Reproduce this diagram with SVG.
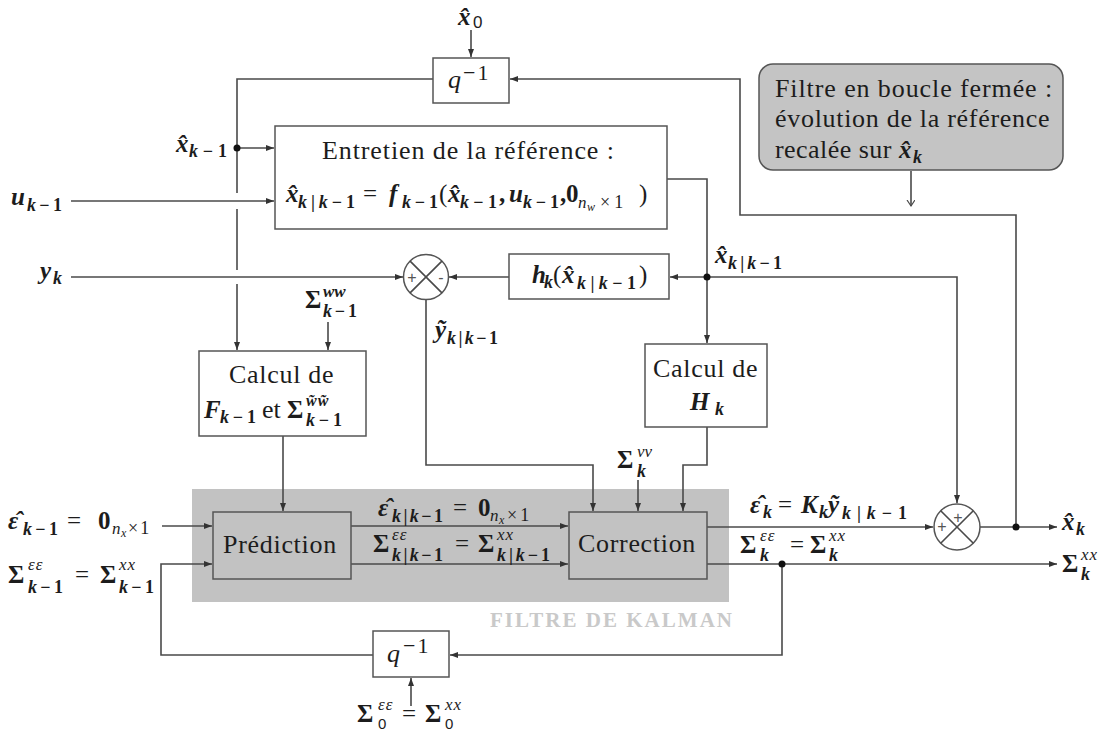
<svg xmlns="http://www.w3.org/2000/svg" width="1119" height="732" viewBox="0 0 1119 732">
<style>
text{font-family:"Liberation Serif","DejaVu Serif",serif;fill:#1c1c1c}
.f26{font-size:26px}.f25{font-size:25px}.f22{font-size:22px}.f21{font-size:21px}.f18{font-size:18px}.f17{font-size:17px}.f16{font-size:16px}.f15{font-size:15px}.f12{font-size:12px}
.bi{font-weight:bold;font-style:italic}.b{font-weight:bold}.it{font-style:italic}
.sans{font-family:"Liberation Sans","DejaVu Sans",sans-serif}
.box{fill:#fff;stroke:#555;stroke-width:1.5}
.gbox{fill:#c2c2c2;stroke:#555;stroke-width:1.5}
.ln{fill:none;stroke:#4a4a4a;stroke-width:1.6}
.pm{font-family:"Liberation Sans","DejaVu Sans",sans-serif;font-size:16px;fill:#555}
.lbl{font-weight:bold;fill:#c9c9c9;font-size:21px}
</style>
<defs>
<marker id="ah" markerUnits="userSpaceOnUse" markerWidth="9" markerHeight="7" refX="8" refY="3" orient="auto"><path d="M0,0 L8,3 L0,6 z" fill="#333"/></marker>
<marker id="oa" markerUnits="userSpaceOnUse" markerWidth="9" markerHeight="9" refX="6" refY="4" orient="auto"><path d="M0,0 L6,4 L0,8" fill="none" stroke="#4a4a4a" stroke-width="1.2"/></marker>
</defs>

<g id="kalman">
<rect x="192" y="489" width="537" height="113" fill="#c2c2c2"/>
<text class="lbl" x="490" y="627" textLength="242">FILTRE DE KALMAN</text>
</g>

<g id="connectors">
<path class="ln" d="M471,30 V57" marker-end="url(#ah)"/>
<path class="ln" d="M433,79 H237 V193"/>
<path class="ln" d="M237,209 V270"/>
<path class="ln" d="M237,284 V350" marker-end="url(#ah)"/>
<path class="ln" d="M237,148 H274" marker-end="url(#ah)"/>
<path class="ln" d="M71,201 H274" marker-end="url(#ah)"/>
<path class="ln" d="M667,179 H707 V277"/>
<path class="ln" d="M707,277 H670" marker-end="url(#ah)"/>
<path class="ln" d="M707,277 H957 V503" marker-end="url(#ah)"/>
<path class="ln" d="M509,277 H449" marker-end="url(#ah)"/>
<path class="ln" d="M71,277 H403" marker-end="url(#ah)"/>
<path class="ln" d="M426,300 V465 H593 V511" marker-end="url(#ah)"/>
<path class="ln" d="M707,277 V343" marker-end="url(#ah)"/>
<path class="ln" d="M707,427 V465 H683 V511" marker-end="url(#ah)"/>
<path class="ln" d="M638,480 V511" marker-end="url(#ah)"/>
<path class="ln" d="M328,322 V350" marker-end="url(#ah)"/>
<path class="ln" d="M283,436 V511" marker-end="url(#ah)"/>
<path class="ln" d="M162,526 H212" marker-end="url(#ah)"/>
<path class="ln" d="M351,526 H568" marker-end="url(#ah)"/>
<path class="ln" d="M351,564 H568" marker-end="url(#ah)"/>
<path class="ln" d="M707,527 H933" marker-end="url(#ah)"/>
<path class="ln" d="M980,527 H1057" marker-end="url(#ah)"/>
<path class="ln" d="M1016,527 V215 H740 V79 H510" marker-end="url(#ah)"/>
<path class="ln" d="M707,564 H1057" marker-end="url(#ah)"/>
<path class="ln" d="M782,564 V655 H450" marker-end="url(#ah)"/>
<path class="ln" d="M373,655 H161 V564 H212" marker-end="url(#ah)"/>
<path class="ln" d="M411,706 V678" marker-end="url(#ah)"/>
<path class="ln" d="M911,171 V206" marker-end="url(#oa)"/>
<circle cx="237" cy="148" r="3.5" fill="#111"/>
<circle cx="707" cy="277" r="3.5" fill="#111"/>
<circle cx="1016" cy="527" r="3.5" fill="#111"/>
<circle cx="782" cy="564" r="3.5" fill="#111"/>
</g>

<g id="q_top">
<rect class="box" x="433" y="58" width="76" height="45"/>
<text class="f26 it" x="448" y="88">q</text>
<text class="f22" x="463" y="80" letter-spacing="2">−1</text>
</g>

<g id="entretien">
<rect class="box" x="275" y="126" width="392" height="103"/>
<text class="f26" x="322" y="159" letter-spacing="0.9">Entretien de la référence :</text>
<text class="f25 bi" x="286" y="202">x&#770;</text>
<text class="f18 b" x="298" y="208" textLength="57"><tspan class="it">k</tspan>|<tspan class="it">k</tspan>−1</text>
<text class="f25" x="363" y="202">=</text>
<text class="f25 bi" x="389" y="202">f</text>
<text class="f18 b" x="402" y="208" textLength="36"><tspan class="it">k</tspan>−1</text>
<text class="f25" x="439" y="202">(</text>
<text class="f25 bi" x="448" y="202">x&#770;</text>
<text class="f18 b" x="460" y="208" textLength="37"><tspan class="it">k</tspan>−1</text>
<text class="f25 b" x="499" y="202">,</text>
<text class="f25 bi" x="509" y="202">u</text>
<text class="f18 b" x="523" y="208" textLength="36"><tspan class="it">k</tspan>−1</text>
<text class="f25 b" x="560" y="202">,</text>
<text class="f25 b" x="566" y="202">0</text>
<text class="f17 it" x="578" y="208">n</text>
<text class="f12 it" x="587" y="211">w</text>
<text class="f18" x="600" y="208" letter-spacing="4">×1</text>
<text class="f25" x="639" y="202">)</text>
</g>

<g id="hk">
<rect class="box" x="509" y="254" width="160" height="45"/>
<text class="f25 bi" x="532" y="283">h</text>
<text class="f18 bi" x="544" y="288">k</text>
<text class="f25" x="553" y="283">(</text>
<text class="f25 bi" x="562" y="283">x&#770;</text>
<text class="f18 b" x="577" y="289" textLength="59"><tspan class="it">k</tspan>|<tspan class="it">k</tspan>−1</text>
<text class="f25" x="639" y="283">)</text>
</g>

<g id="sum1">
<circle cx="426" cy="277" r="22.5" fill="#fff" stroke="#555" stroke-width="1.5"/>
<path class="ln" d="M410.1,261.1 L441.9,292.9 M441.9,261.1 L410.1,292.9" stroke-width="1.3"/>
<text class="pm" x="412" y="283" text-anchor="middle">+</text>
<text class="pm" x="441" y="283" text-anchor="middle">-</text>
</g>

<g id="calcF">
<rect class="box" x="199" y="351" width="167" height="85"/>
<text class="f26" x="229" y="383" letter-spacing="0.7">Calcul de</text>
<text class="f25 bi" x="204" y="418">F</text>
<text class="f18 b" x="220" y="423" textLength="36"><tspan class="it">k</tspan>−1</text>
<text class="f26" x="262" y="418">et</text>
<text class="f25 b" x="287" y="418">Σ</text>
<text class="f16 bi" x="306" y="406" letter-spacing="1">w&#771;w&#771;</text>
<text class="f18 b" x="306" y="426" textLength="36"><tspan class="it">k</tspan>−1</text>
</g>

<g id="calcH">
<rect class="box" x="645" y="344" width="122" height="83"/>
<text class="f26" x="653" y="377" letter-spacing="0.7">Calcul de</text>
<text class="f25 bi" x="690" y="410">H</text>
<text class="f18 bi" x="715" y="415">k</text>
</g>

<g id="filtre_note">
<rect x="759" y="64" width="304" height="106" rx="14" fill="#c4c4c4" stroke="#555" stroke-width="1.5"/>
<text class="f26" x="775" y="97" letter-spacing="0.9">Filtre en boucle fermée :</text>
<text class="f26" x="775" y="127" letter-spacing="0.7">évolution de la référence</text>
<text class="f26" x="775" y="158" letter-spacing="0.45">recalée sur</text>
<text class="f25 bi" x="899" y="158">x&#770;</text>
<text class="f18 bi" x="913" y="163">k</text>
</g>

<g id="prediction">
<rect class="gbox" x="213" y="512" width="138" height="67"/>
<text class="f26" x="223" y="553" letter-spacing="0.7">Prédiction</text>
</g>

<g id="correction">
<rect class="gbox" x="569" y="512" width="138" height="67"/>
<text class="f26" x="578" y="552" letter-spacing="0.68">Correction</text>
</g>

<g id="sum2">
<circle cx="957" cy="527" r="23" fill="#fff" stroke="#555" stroke-width="1.5"/>
<path class="ln" d="M940.7,510.7 L973.3,543.3 M973.3,510.7 L940.7,543.3" stroke-width="1.3"/>
<text class="pm" x="942" y="532" text-anchor="middle">+</text>
<text class="pm" x="958" y="523" text-anchor="middle">+</text>
</g>

<g id="q_bot">
<rect class="box" x="373" y="631" width="76" height="46"/>
<text class="f26 it" x="387" y="662">q</text>
<text class="f22" x="403" y="653" letter-spacing="2">−1</text>
</g>

<g id="labels">
<text class="f25 bi" x="458" y="25">x&#770;</text>
<text class="f17 sans" x="473" y="28">0</text>
<text class="f25 bi" x="176" y="152">x&#770;</text>
<text class="f18 b" x="189" y="157" textLength="38"><tspan class="it">k</tspan>−1</text>
<text class="f25 bi" x="11" y="205">u</text>
<text class="f18 b" x="27" y="211" textLength="35"><tspan class="it">k</tspan>−1</text>
<text class="f25 bi" x="40" y="279">y</text>
<text class="f18 bi" x="53" y="284">k</text>
<text class="f25 b" x="305" y="308">Σ</text>
<text class="f17 bi" x="323" y="297">ww</text>
<text class="f18 b" x="323" y="317" textLength="34"><tspan class="it">k</tspan>−1</text>
<text class="f25 bi" x="715" y="263">x&#770;</text>
<text class="f18 b" x="728" y="269" textLength="54"><tspan class="it">k</tspan>|<tspan class="it">k</tspan>−1</text>
<text class="f25 bi" x="435" y="338">y&#771;</text>
<text class="f18 b" x="447" y="344" textLength="51"><tspan class="it">k</tspan>|<tspan class="it">k</tspan>−1</text>
<text class="f25 b" x="617" y="468">Σ</text>
<text class="f17 it" x="637" y="457">vv</text>
<text class="f18 bi" x="637" y="477">k</text>
<text class="f25 bi" x="8" y="529">ε&#770;</text>
<text class="f18 b" x="23" y="535" textLength="35"><tspan class="it">k</tspan>−1</text>
<text class="f25" x="67" y="529">=</text>
<text class="f25 b" x="98" y="529">0</text>
<text class="f17 it" x="112" y="534">n</text>
<text class="f12 it" x="121" y="537">x</text>
<text class="f18" x="128" y="534" letter-spacing="2">×1</text>
<text class="f25 b" x="8" y="583">Σ</text>
<text class="f17 it" x="28" y="570" letter-spacing="1">εε</text>
<text class="f18 b" x="28" y="593" textLength="35"><tspan class="it">k</tspan>−1</text>
<text class="f25" x="75" y="583">=</text>
<text class="f25 b" x="100" y="583">Σ</text>
<text class="f17 it" x="119" y="570" letter-spacing="1">xx</text>
<text class="f18 b" x="119" y="593" textLength="35"><tspan class="it">k</tspan>−1</text>
<text class="f25 bi" x="378" y="516">ε&#770;</text>
<text class="f18 b" x="392" y="522" textLength="51"><tspan class="it">k</tspan>|<tspan class="it">k</tspan>−1</text>
<text class="f25" x="453" y="516">=</text>
<text class="f25 b" x="478" y="516">0</text>
<text class="f17 it" x="490" y="521">n</text>
<text class="f12 it" x="499" y="524">x</text>
<text class="f18" x="507" y="521" letter-spacing="3">×1</text>
<text class="f25 b" x="373" y="552">Σ</text>
<text class="f17 it" x="392" y="540" letter-spacing="1">εε</text>
<text class="f18 b" x="392" y="561" textLength="51"><tspan class="it">k</tspan>|<tspan class="it">k</tspan>−1</text>
<text class="f25" x="455" y="552">=</text>
<text class="f25 b" x="478" y="552">Σ</text>
<text class="f17 it" x="497" y="540" letter-spacing="1">xx</text>
<text class="f18 b" x="497" y="561" textLength="53"><tspan class="it">k</tspan>|<tspan class="it">k</tspan>−1</text>
<text class="f25 bi" x="750" y="513">ε&#770;</text>
<text class="f18 bi" x="763" y="518">k</text>
<text class="f25" x="778" y="513">=</text>
<text class="f25 bi" x="801" y="513">K</text>
<text class="f18 bi" x="819" y="518">k</text>
<text class="f25 bi" x="828" y="513">y&#771;</text>
<text class="f18 b" x="842" y="519" textLength="65"><tspan class="it">k</tspan>|<tspan class="it">k</tspan>−1</text>
<text class="f25 b" x="740" y="553">Σ</text>
<text class="f17 it" x="760" y="541" letter-spacing="1">εε</text>
<text class="f18 bi" x="760" y="561">k</text>
<text class="f25" x="790" y="553">=</text>
<text class="f25 b" x="810" y="553">Σ</text>
<text class="f17 it" x="829" y="541" letter-spacing="1">xx</text>
<text class="f18 bi" x="829" y="561">k</text>
<text class="f25 bi" x="1062" y="530">x&#770;</text>
<text class="f18 bi" x="1076" y="535">k</text>
<text class="f25 b" x="1062" y="572">Σ</text>
<text class="f17 it" x="1081" y="560" letter-spacing="1">xx</text>
<text class="f18 bi" x="1081" y="580">k</text>
<text class="f25 b" x="357" y="722">Σ</text>
<text class="f17 it" x="378" y="710" letter-spacing="1">εε</text>
<text class="f15 sans" x="378" y="729">0</text>
<text class="f25" x="402" y="722">=</text>
<text class="f25 b" x="425" y="722">Σ</text>
<text class="f17 it" x="445" y="710" letter-spacing="1">xx</text>
<text class="f15 sans" x="445" y="729">0</text>
</g>
</svg>
